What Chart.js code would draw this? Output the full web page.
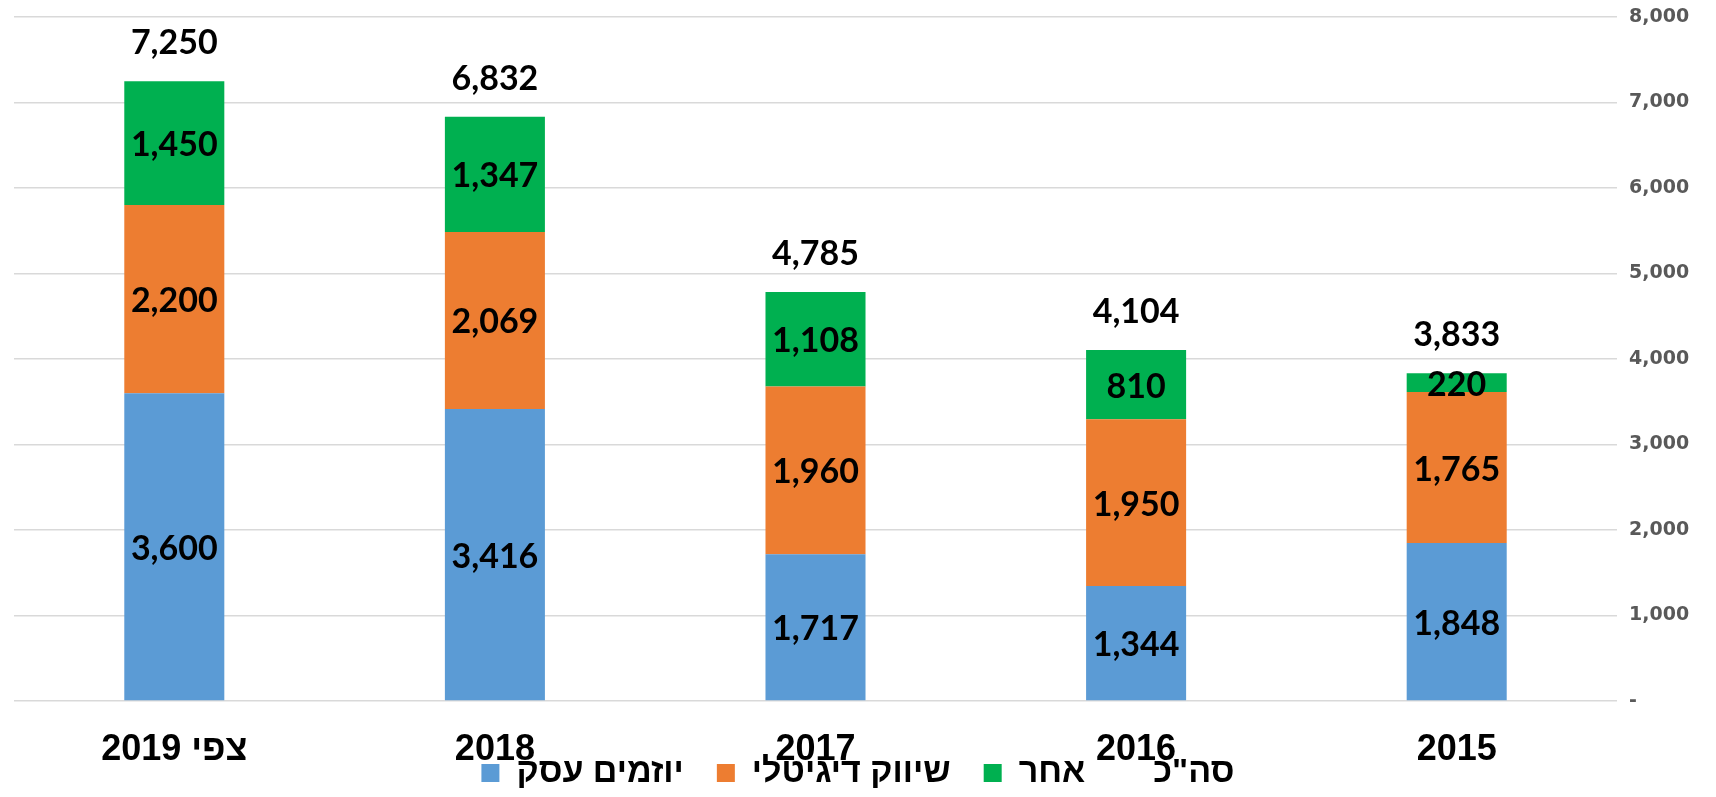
<!DOCTYPE html>
<html>
<head>
<meta charset="utf-8">
<script src="https://cdn.jsdelivr.net/npm/chart.js@4.4.1/dist/chart.umd.min.js"></script>
<style>
  html, body { margin: 0; padding: 0; background: #ffffff; }
  #wrap { width: 1716px; height: 797px; }
</style>
</head>
<body>
<div id="wrap"><canvas id="chart" width="1716" height="797"></canvas></div>
<script>
(() => {
  "use strict";

  // Data
  const years = ["\u202Bצפי 2019\u202C", "2018", "2017", "2016", "2015"];
  const entrepreneurs = [3600, 3416, 1717, 1344, 1848];
  const digitalMarketing = [2200, 2069, 1960, 1950, 1765];
  const other = [1450, 1347, 1108, 810, 220];
  const totals = [7250, 6832, 4785, 4104, 3833];
  const yTicks = [0, 1000, 2000, 3000, 4000, 5000, 6000, 7000, 8000];

  const fmt = (v) => v.toLocaleString("en-US");
  const labelFont = "bold 34px Lato, 'Open Sans', sans-serif";

  // Numbers inside the segments and totals above the bars
  const valueLabels = {
    id: "valueLabels",
    afterDatasetsDraw(chart) {
      const { ctx } = chart;
      ctx.save();
      ctx.font = labelFont;
      ctx.fillStyle = "#000000";
      ctx.textAlign = "center";
      ctx.textBaseline = "middle";
      chart.data.datasets.forEach((ds, di) => {
        const meta = chart.getDatasetMeta(di);
        meta.data.forEach((el, i) => {
          const v = ds.data[i];
          if (ds.type === "line") {
            ctx.fillText(fmt(v), el.x, el.y - 38);
          } else {
            const { x, y, base } = el.getProps(["x", "y", "base"], true);
            ctx.fillText(fmt(v), x, (y + base) / 2 + 2);
          }
        });
      });
      ctx.restore();
    }
  };

  // The legend sits close under the year labels, centred on the whole canvas
  const legendNudge = {
    id: "legendNudge",
    afterLayout(chart) {
      const lg = chart.legend;
      const h = lg.bottom - lg.top;
      lg.top = chart.chartArea.bottom + 22;
      lg.bottom = lg.top + h;
      lg.left = 0;
      lg.right = chart.width;
    }
  };

  new Chart(document.getElementById("chart"), {
    type: "bar",
    data: {
      labels: years,
      datasets: [
        { label: "יוזמים עסק", data: entrepreneurs, backgroundColor: "#5B9BD5", stack: "s" },
        { label: "שיווק דיגיטלי", data: digitalMarketing, backgroundColor: "#ED7D31", stack: "s" },
        { label: "אחר", data: other, backgroundColor: "#00B050", stack: "s" },
        {
          type: "line", label: 'סה"כ', data: totals, stack: "total",
          showLine: false, pointRadius: 0, pointHoverRadius: 0,
          borderColor: "rgba(0,0,0,0)", backgroundColor: "rgba(0,0,0,0)", borderWidth: 0
        }
      ]
    },
    options: {
      responsive: false,
      animation: false,
      devicePixelRatio: 1,
      layout: { padding: { left: 14, right: 0, top: 17, bottom: -51 } },
      datasets: { bar: { categoryPercentage: 1, barPercentage: 0.312, borderWidth: 0 } },
      plugins: {
        legend: {
          position: "bottom",
          labels: {
            font: { family: "'Liberation Sans', Arial, sans-serif", size: 34, weight: "bold" },
            color: "#000000",
            boxWidth: 18,
            boxHeight: 18,
            padding: 33
          }
        },
        tooltip: { enabled: false }
      },
      scales: {
        x: {
          stacked: true,
          grid: { display: false, drawTicks: false },
          border: { display: false },
          ticks: {
            color: "#000000",
            padding: 27,
            font: { family: "'Liberation Sans', Arial, sans-serif", size: 36, weight: "bold" }
          },
          afterFit: (s) => { s.height = 70; }
        },
        y: {
          stacked: true,
          position: "right",
          min: 0,
          max: 8000,
          afterBuildTicks: (s) => { s.ticks = yTicks.map(v => ({ value: v })); },
          grid: { color: "#d9d9d9", lineWidth: 1.5, drawTicks: false },
          border: { display: false },
          ticks: {
            color: "#595959",
            padding: 12,
            font: { family: "'DejaVu Sans', Verdana, sans-serif", size: 19, weight: "bold" },
            callback: (v) => (v === 0 ? "-" : fmt(v))
          },
          afterFit: (s) => { s.width = 99; s.paddingTop = 0; s.paddingBottom = 0; }
        }
      }
    },
    plugins: [valueLabels, legendNudge]
  });
})();
</script>
</body>
</html>
